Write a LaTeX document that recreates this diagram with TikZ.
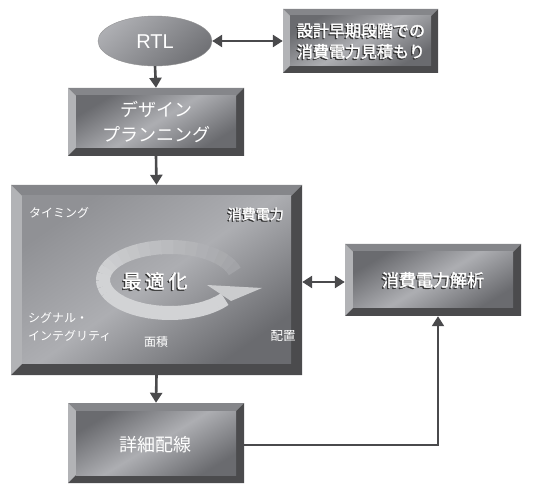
\documentclass[tikz,border=0pt]{standalone}
\usepackage{fontspec}
\setmainfont{Liberation Sans}
\newfontfamily\jp{Noto Sans CJK JP}
\newfontfamily\jpb[FakeBold=2]{Noto Sans CJK JP}
\usetikzlibrary{arrows.meta}
\definecolor{bvL}{HTML}{B2B3B6}
\definecolor{bvT}{HTML}{85868A}
\definecolor{bvD}{HTML}{4B4B4D}
\definecolor{fdark}{HTML}{6A6B6F}
\definecolor{flight}{HTML}{ADAEB2}
\definecolor{bmid}{HTML}{909195}
\definecolor{arr}{HTML}{4A4A4C}
\definecolor{ring}{HTML}{D2D3D5}
\definecolor{ringbg}{HTML}{A2A3A7}
\tikzset{
  face/.style={top color=fdark, bottom color=fdark, middle color=flight, shading angle=31},
  bigface/.style={top color=bmid, bottom color=fdark, middle color=flight, shading angle=35},
  conn/.style={draw=arr, line width=2.6pt, -{Triangle[width=12pt,length=10pt]}},
  dconn/.style={draw=arr, line width=2.6pt, {Triangle[width=12pt,length=10pt]}-{Triangle[width=12pt,length=10pt]}},
  wlbl/.style={text=white, font=\jp, inner sep=0pt, align=center},
  shd/.style={text=black!80, font=\jpb, inner sep=0pt, align=center},
  wb/.style={text=white, font=\jpb, inner sep=0pt, align=center},
}
\newcommand\bevelbox[7]{%
  \fill[bvL] (#2,#3) -- (#2+#6,#3+#6) -- (#2+#6,#5-#6) -- (#2,#5) -- cycle;
  \fill[bvT] (#2,#3) -- (#4,#3) -- (#4-#6,#3+#6) -- (#2+#6,#3+#6) -- cycle;
  \fill[bvD] (#4,#3) -- (#4,#5) -- (#2,#5) -- (#2+#6,#5-#6) -- (#4-#6,#5-#6) -- (#4-#6,#3+#6) -- cycle;
  \shade[#7] (#2+#6,#3+#6) rectangle (#4-#6,#5-#6);
  \node[inner sep=0pt, minimum width={#4-#2}, minimum height={#5-#3}] (#1) at ({(#2+#4)/2},{(#3+#5)/2}) {};
}
\begin{document}
\begin{tikzpicture}[x=1pt,y=-1pt]
\useasboundingbox (0,0) rectangle (549,486);
% RTL ellipse
\shade[top color=flight, bottom color=fdark!90!flight, shading angle=40, draw=bvD!60, line width=0.4pt]
  (155,41) ellipse [x radius=57, y radius=25];
\node[inner sep=0pt, minimum width=114pt, minimum height=50pt] (rtl) at (155,41) {};
\node[text=white, font=\fontsize{20}{22}\selectfont, inner sep=0pt] (rtlt) at (155,42) {RTL};
% boxes
\bevelbox{est}{283}{9}{438}{73}{7}{face}
\bevelbox{dp}{68}{88}{244}{156}{8}{face}
\bevelbox{big}{11}{185}{302}{375}{11}{bigface}
\bevelbox{ana}{345}{244}{521}{316}{8}{face}
\bevelbox{det}{68}{403}{244}{483}{8}{face}
% box texts
\node[shd, font=\jpb\fontsize{16}{21}\selectfont] (estS) at (359.8,42.2) {設計早期段階での\\消費電力見積もり};
\node[wb, font=\jpb\fontsize{16}{21}\selectfont] (estT) at (361,41) {設計早期段階での\\消費電力見積もり};
\node[wlbl, font=\jp\fontsize{18}{25}\selectfont] (dpT) at (156,122) {デザイン\\プランニング};
\node[shd, font=\jpb\fontsize{17}{20}\selectfont] (anaS) at (431.8,281.2) {消費電力解析};
\node[wb, font=\jpb\fontsize{17}{20}\selectfont] (anaT) at (433,280) {消費電力解析};
\node[wlbl, font=\jp\fontsize{18}{20}\selectfont] (detT) at (155,445) {詳細配線};
% ring arrow (fading toward its start)
\foreach \i in {0,...,29}{
  \pgfmathsetmacro\sa{-15-\i*10.3}
  \pgfmathsetmacro\ea{-15-(\i+1)*10.3-0.8}
  \pgfmathsetmacro\pc{min(100,\i*7)}
  \draw[color=ring!\pc!ringbg, line width=14pt] (170,280) ++(\sa:67 and 33) arc[start angle=\sa, end angle=\ea, x radius=67, y radius=33];
}
\fill[ring!85!ringbg] (207,285) -- (262,288) -- (231,301) -- cycle;
% big box labels
\node[wlbl, font=\jp\fontsize{12}{14}\selectfont, anchor=west] (tim) at (29,213) {タイミング};
\node[shd, font=\jpb\fontsize{14}{16}\selectfont, anchor=east] (pwS) at (282.8,215.2) {消費電力};
\node[wb, font=\jpb\fontsize{14}{16}\selectfont, anchor=east] (pwT) at (284,214) {消費電力};
\node[shd, font=\jpb\fontsize{19}{20}\selectfont] (optS) at (153.8,282.2) {最\hspace{4pt}適\hspace{4pt}化};
\node[wb, font=\jpb\fontsize{19}{20}\selectfont] (optT) at (155,281) {最\hspace{4pt}適\hspace{4pt}化};
\node[wlbl, font=\jp\fontsize{12}{18}\selectfont, anchor=west, align=left] (sig) at (28,327) {シグナル・\\インテグリティ};
\node[wlbl, font=\jp\fontsize{12}{14}\selectfont] (area) at (156,342) {面積};
\node[wlbl, font=\jp\fontsize{12.5}{14}\selectfont] (place) at (283,336) {配置};
% connectors
\draw[dconn] (rtl.east) -- (est.west);
\draw[conn] (rtl.south) -- (dp.north);
\draw[conn] (dp.south) -- (big.north);
\draw[dconn] (big.east |- 0,282) -- (ana.west |- 0,282);
\draw[conn] (big.south) -- (det.north);
\coordinate (bend) at (438,445);
\draw[draw=arr, line width=2pt, -{Triangle[width=12pt,length=10pt]}] (det.east |- bend) -- (bend) -- (bend |- ana.south);
\end{tikzpicture}
\end{document}
